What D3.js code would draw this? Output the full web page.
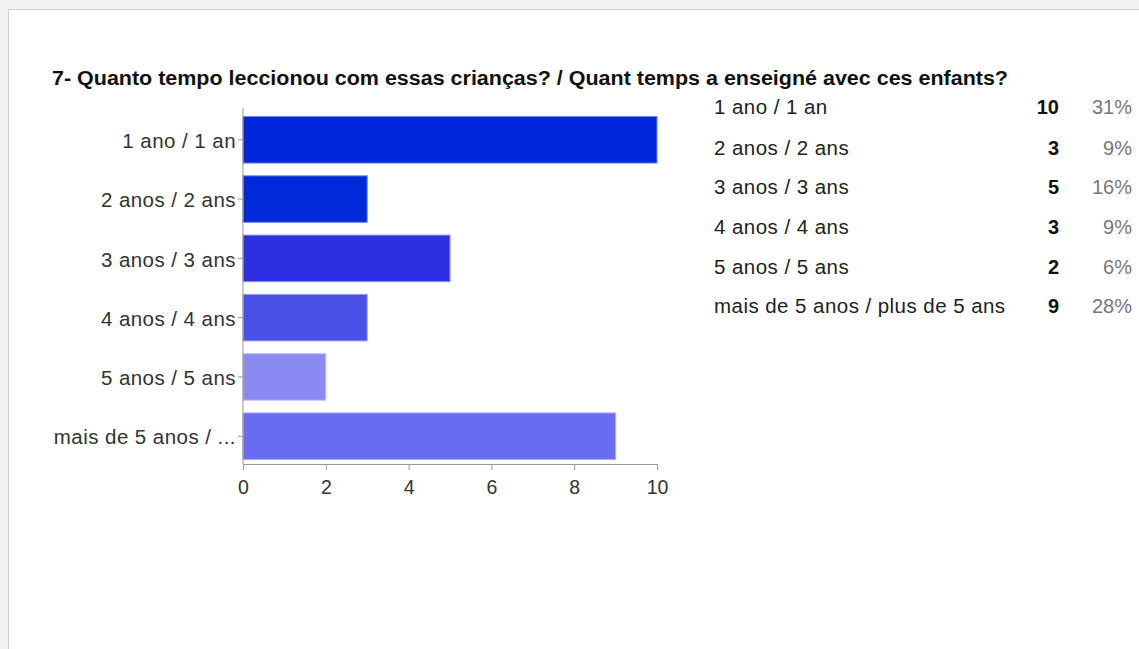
<!DOCTYPE html>
<html>
<head>
<meta charset="utf-8">
<script src="https://cdn.jsdelivr.net/npm/d3@7"></script>
<style>
  body { margin: 0; background: #f2f2f2; }
  svg { display: block; font-family: "Liberation Sans", Arial, sans-serif; }
</style>
</head>
<body>
<svg id="chart"></svg>
<script>
// data
const categories = ["1 ano / 1 an", "2 anos / 2 ans", "3 anos / 3 ans", "4 anos / 4 ans", "5 anos / 5 ans", "mais de 5 anos / plus de 5 ans"];
const shortLabels = ["1 ano / 1 an", "2 anos / 2 ans", "3 anos / 3 ans", "4 anos / 4 ans", "5 anos / 5 ans", "mais de 5 anos / ..."];
const counts = [10, 3, 5, 3, 2, 9];
const percents = ["31%", "9%", "16%", "9%", "6%", "28%"];
const barColors = ["#0027dc", "#0029da", "#2e2fe2", "#4850e8", "#8a8af2", "#686cf0"];
const xTicks = [0, 2, 4, 6, 8, 10];

const W = 1139, H = 649;
const svg = d3.select('#chart').attr('width', W).attr('height', H);

// page panel
svg.append('rect').attr('x', 0).attr('y', 0).attr('width', W).attr('height', H).attr('fill', '#f1f1f1');
svg.append('rect').attr('x', 8.5).attr('y', 9.5).attr('width', W).attr('height', H)
   .attr('fill', '#fff').attr('stroke', '#cfcfcf');

// title
svg.append('text')
   .attr('x', 52).attr('y', 85)
   .attr('textLength', 956).attr('lengthAdjust', 'spacingAndGlyphs')
   .style('font-size', '20px').style('font-weight', 'bold').style('fill', '#111')
   .text('7- Quanto tempo leccionou com essas crianças? / Quant temps a enseigné avec ces enfants?');

const plot = { left: 243, right: 657, top: 108, bottom: 464 };

const x = d3.scaleLinear().domain([0, 10]).range([plot.left, plot.right]);
const y = d3.scaleBand().domain(categories).range([plot.top + 2, plot.bottom + 2]).paddingInner(0.215).paddingOuter(0.11);

// bars
svg.selectAll('rect.bar')
   .data(categories)
   .enter()
   .append('rect')
   .attr('class', 'bar')
   .attr('x', x(0))
   .attr('y', d => y(d))
   .attr('width', (d, i) => x(counts[i]) - x(0))
   .attr('height', y.bandwidth())
   .attr('fill', (d, i) => barColors[i])
   .attr('stroke', (d, i) => d3.interpolateRgb(barColors[i], '#fff')(0.45))
   .attr('stroke-width', 1);

// x axis
const xAxis = svg.append('g')
   .attr('transform', `translate(0,${plot.bottom})`)
   .call(d3.axisBottom(x).tickValues(xTicks).tickSize(6).tickSizeOuter(0));
xAxis.select('.domain').attr('stroke', '#999');
xAxis.selectAll('.tick line').attr('stroke', '#999');
xAxis.selectAll('.tick text').attr('y', 11).attr('dy', '0.95em').style('font-size', '19.5px').style('fill', '#333');

// y axis
const yAxis = svg.append('g')
   .attr('transform', `translate(${plot.left},0)`)
   .call(d3.axisLeft(y).tickSize(5).tickSizeOuter(0).tickFormat((d, i) => shortLabels[i]));
yAxis.select('.domain').attr('stroke', '#999').attr('d', `M0,${plot.top}V${plot.bottom}`);
yAxis.selectAll('.tick line').attr('stroke', '#999');
yAxis.selectAll('.tick text').attr('x', -7).attr('dy', '0.4em')
     .style('font-size', '20.5px').style('letter-spacing', '0.45px').style('fill', '#333');

// legend table
const rowY = [107, 148, 187, 227, 267, 306];
const table = svg.append('g');
categories.forEach((c, i) => {
    table.append('text').attr('x', 714).attr('y', rowY[i] + 7)
         .style('font-size', '20.5px').style('letter-spacing', '0.45px').style('fill', '#222').text(c);
    table.append('text').attr('x', 1059).attr('y', rowY[i] + 7).attr('text-anchor', 'end')
         .style('font-size', '20px').style('font-weight', 'bold').style('fill', '#111').text(counts[i]);
    table.append('text').attr('x', 1132).attr('y', rowY[i] + 7).attr('text-anchor', 'end')
         .style('font-size', '20px').style('fill', '#777').text(percents[i]);
});
</script>
</body>
</html>
